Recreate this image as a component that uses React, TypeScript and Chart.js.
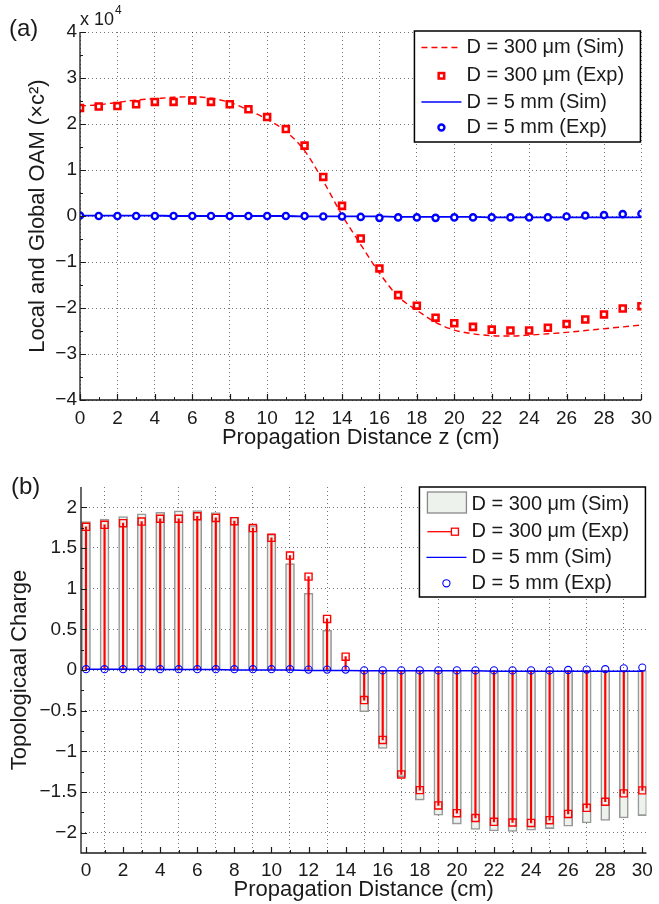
import React, { useEffect, useRef } from "react";
import { Chart, registerables } from "chart.js";

Chart.register(...registerables);

const FONT = "'Liberation Sans', Arial, Helvetica, sans-serif";
const TEXT = "#1a1a1a";
const RED = "#ff0000";
const BLUE = "#0000ff";
const GRID = "rgba(0,0,0,0.55)";
const BAR_FILL = "#edf2ed";
const BAR_EDGE = "#999999";

// ---------- Panel (a): Local and Global OAM (units of 10^4 c^2) ----------
const zA = [0, 1, 2, 3, 4, 5, 6, 7, 8, 9, 10, 11, 12, 13, 14, 15, 16, 17, 18, 19, 20, 21, 22, 23, 24, 25, 26, 27, 28, 29, 30];
const oamSim300 = [2.39, 2.42, 2.47, 2.52, 2.55, 2.58, 2.59, 2.56, 2.47, 2.3, 2.1, 1.84, 1.42, 0.76, 0.02, -0.62, -1.24, -1.75, -2.05, -2.31, -2.48, -2.56, -2.6, -2.61, -2.59, -2.56, -2.53, -2.49, -2.45, -2.41, -2.37];
const oamExp300 = [2.35, 2.38, 2.39, 2.43, 2.48, 2.48, 2.51, 2.48, 2.43, 2.32, 2.15, 1.89, 1.53, 0.85, 0.22, -0.49, -1.14, -1.72, -1.95, -2.21, -2.33, -2.41, -2.47, -2.49, -2.49, -2.43, -2.35, -2.25, -2.14, -2.01, -1.96];
const oamSim5 = [0.01, 0.01, 0.01, 0.01, 0.01, 0.0, 0.0, 0.0, 0.0, 0.0, 0.0, 0.0, -0.01, -0.01, -0.01, -0.01, -0.01, -0.02, -0.02, -0.02, -0.02, -0.02, -0.03, -0.03, -0.03, -0.03, -0.03, -0.03, -0.03, -0.03, -0.03];
const oamExp5 = [0.01, 0.0, 0.0, 0.0, 0.0, 0.0, 0.0, 0.0, 0.0, 0.0, 0.0, 0.0, 0.0, -0.01, -0.01, -0.02, -0.04, -0.03, -0.03, -0.04, -0.03, -0.03, -0.03, -0.03, -0.03, -0.03, -0.01, 0.01, 0.02, 0.04, 0.05];
const xTicksA = [0, 2, 4, 6, 8, 10, 12, 14, 16, 18, 20, 22, 24, 26, 28, 30];
const yTicksA = [-4, -3, -2, -1, 0, 1, 2, 3, 4];
const legendA = ["D = 300 \u03bcm (Sim)", "D = 300 \u03bcm (Exp)", "D = 5 mm (Sim)", "D = 5 mm (Exp)"];
const xTitleA = "Propagation Distance z (cm)";
const yTitleA = "Local and Global OAM (\u00d7c\u00b2)";

// ---------- Panel (b): Topological charge ----------
const zB = [0, 1, 2, 3, 4, 5, 6, 7, 8, 9, 10, 11, 12, 13, 14, 15, 16, 17, 18, 19, 20, 21, 22, 23, 24, 25, 26, 27, 28, 29, 30];
const tcSim300 = [1.825, 1.855, 1.887, 1.92, 1.94, 1.957, 1.96, 1.936, 1.88, 1.776, 1.67, 1.308, 0.944, 0.49, 0.0, -0.513, -0.964, -1.313, -1.6, -1.785, -1.895, -1.96, -1.98, -1.985, -1.97, -1.95, -1.92, -1.88, -1.85, -1.82, -1.79];
const tcExp300 = [1.76, 1.785, 1.805, 1.825, 1.86, 1.86, 1.89, 1.87, 1.83, 1.745, 1.625, 1.407, 1.148, 0.628, 0.164, -0.37, -0.86, -1.284, -1.477, -1.665, -1.76, -1.82, -1.867, -1.875, -1.88, -1.846, -1.77, -1.695, -1.62, -1.517, -1.48];
const tcSim5 = [0.01, 0.01, 0.01, 0.01, 0.005, 0.005, 0.005, 0.005, 0.0, 0.0, 0.0, 0.0, -0.005, -0.005, -0.005, -0.01, -0.01, -0.01, -0.01, -0.01, -0.01, -0.01, -0.015, -0.015, -0.015, -0.015, -0.015, -0.015, -0.015, -0.015, -0.015];
const tcExp5 = [0.01, 0.01, 0.01, 0.01, 0.01, 0.01, 0.01, 0.01, 0.01, 0.01, 0.01, 0.01, 0.005, 0.005, 0.005, -0.005, -0.005, -0.005, -0.005, -0.005, -0.005, -0.005, -0.005, -0.005, -0.005, -0.005, 0.0, 0.005, 0.01, 0.02, 0.03];
const xTicksB = [0, 2, 4, 6, 8, 10, 12, 14, 16, 18, 20, 22, 24, 26, 28, 30];
const yTicksB = [-2, -1.5, -1, -0.5, 0, 0.5, 1, 1.5, 2];
const legendB = ["D = 300 \u03bcm (Sim)", "D = 300 \u03bcm (Exp)", "D = 5 mm (Sim)", "D = 5 mm (Exp)"];
const xTitleB = "Propagation Distance (cm)";
const yTitleB = "Topologicaal Charge";

const pts = (xs: number[], ys: number[]) => xs.map((x, i) => ({ x, y: ys[i] }));
const fmt = (v: number) => (v < 0 ? "\u2212" : "") + String(Math.abs(v));

function drawSquare(ctx: any, x: number, y: number, side: number, lw: number, color: string, fill: string | null) {
  ctx.save();
  ctx.lineWidth = lw;
  ctx.strokeStyle = color;
  if (fill) {
    ctx.fillStyle = fill;
    ctx.fillRect(x - side / 2, y - side / 2, side, side);
  }
  ctx.strokeRect(x - side / 2, y - side / 2, side, side);
  ctx.restore();
}

function drawCircle(ctx: any, x: number, y: number, r: number, lw: number, color: string, fill: string | null) {
  ctx.save();
  ctx.lineWidth = lw;
  ctx.strokeStyle = color;
  ctx.beginPath();
  ctx.arc(x, y, r, 0, Math.PI * 2);
  if (fill) {
    ctx.fillStyle = fill;
    ctx.fill();
  }
  ctx.stroke();
  ctx.restore();
}

function drawLine(ctx: any, x1: number, x2: number, y: number, lw: number, color: string, dash: number[]) {
  ctx.save();
  ctx.lineWidth = lw;
  ctx.strokeStyle = color;
  ctx.setLineDash(dash);
  ctx.beginPath();
  ctx.moveTo(x1, y);
  ctx.lineTo(x2, y);
  ctx.stroke();
  ctx.restore();
}

const matlabPlugin = {
  id: "matlab",
  afterDraw(chart: any, _args: any, opts: any) {
    const { ctx, chartArea: ca, scales } = chart;
    const xs = scales.x;
    const ys = scales.y;
    ctx.save();

    // axis lines (left + bottom only)
    ctx.strokeStyle = TEXT;
    ctx.lineWidth = 1.3;
    ctx.beginPath();
    ctx.moveTo(ca.left, ca.top);
    ctx.lineTo(ca.left, ca.bottom);
    ctx.lineTo(ca.right, ca.bottom);
    ctx.stroke();

    // inward ticks
    ctx.lineWidth = 1.2;
    ctx.beginPath();
    const xt = xs.ticks.map((t: any) => t.value);
    const yt = ys.ticks.map((t: any) => t.value);
    xt.forEach((v: number) => {
      const p = Math.round(xs.getPixelForValue(v)) + 0.5;
      ctx.moveTo(p, ca.bottom);
      ctx.lineTo(p, ca.bottom - 6);
    });
    yt.forEach((v: number) => {
      const p = Math.round(ys.getPixelForValue(v)) + 0.5;
      ctx.moveTo(ca.left, p);
      ctx.lineTo(ca.left + 6, p);
    });
    ctx.stroke();
    ctx.lineWidth = 1;
    ctx.beginPath();
    for (let i = 0; i < xt.length - 1; i++) {
      const p = Math.round(xs.getPixelForValue((xt[i] + xt[i + 1]) / 2)) + 0.5;
      ctx.moveTo(p, ca.bottom);
      ctx.lineTo(p, ca.bottom - 3);
    }
    for (let i = 0; i < yt.length - 1; i++) {
      const p = Math.round(ys.getPixelForValue((yt[i] + yt[i + 1]) / 2)) + 0.5;
      ctx.moveTo(ca.left, p);
      ctx.lineTo(ca.left + 3, p);
    }
    ctx.stroke();

    // panel label
    ctx.fillStyle = TEXT;
    ctx.textBaseline = "middle";
    ctx.textAlign = "left";
    ctx.font = `24px ${FONT}`;
    ctx.fillText(opts.label, opts.labelX, opts.labelY);

    // exponent
    if (opts.exponent) {
      ctx.font = `18px ${FONT}`;
      const base = "x 10";
      ctx.fillText(base, ca.left, ca.top - 11.5);
      const w = ctx.measureText(base).width;
      ctx.font = `12px ${FONT}`;
      ctx.fillText(opts.exponent, ca.left + w + 1, ca.top - 21);
    }

    // legend
    const lg = opts.legend;
    const bx = ca.right - lg.width - 1;
    const by = ca.top - lg.inset;
    ctx.fillStyle = "#ffffff";
    ctx.fillRect(bx, by, lg.width, lg.height);
    ctx.strokeStyle = "#000";
    ctx.lineWidth = 1.5;
    ctx.strokeRect(bx, by, lg.width, lg.height);
    lg.items.forEach((it: any, i: number) => {
      const y = by + lg.rows[i];
      const x1 = bx + 7;
      const x2 = bx + 47;
      const xm = bx + 27;
      if (it.kind === "dash") drawLine(ctx, x1, x2, y, 1.3, RED, [6, 4]);
      if (it.kind === "line") drawLine(ctx, x1, x2, y, 1.3, BLUE, []);
      if (it.kind === "square") drawSquare(ctx, xm, y, 5.5, 2.5, RED, "#fff");
      if (it.kind === "circleThick") drawCircle(ctx, xm, y, 3, 2.4, BLUE, "#fff");
      if (it.kind === "circle") drawCircle(ctx, xm, y, 3.6, 1.1, BLUE, null);
      if (it.kind === "bar") {
        ctx.save();
        ctx.fillStyle = BAR_FILL;
        ctx.fillRect(x1 + 1, by + 5, 39, 21);
        ctx.strokeStyle = "#888";
        ctx.lineWidth = 1.3;
        ctx.strokeRect(x1 + 1, by + 5, 39, 21);
        ctx.restore();
      }
      if (it.kind === "stem") {
        drawLine(ctx, x1 + 1, bx + 32, y, 1.3, RED, []);
        drawSquare(ctx, bx + 35.5, y, 7, 1.3, RED, "#fff");
      }
      ctx.fillStyle = TEXT;
      ctx.font = `20px ${FONT}`;
      ctx.textBaseline = "middle";
      ctx.textAlign = "left";
      ctx.fillText(it.text, bx + 52, y);
    });
    ctx.restore();
  },
};

function axisCommon(ticksArr: number[], pad: number) {
  return {
    type: "linear",
    afterBuildTicks: (s: any) => {
      s.ticks = ticksArr.map((v) => ({ value: v }));
    },
    grid: { color: GRID, lineWidth: 1, drawTicks: false },
    border: { display: false, dash: [1, 3] },
    ticks: {
      font: { family: FONT, size: 19 },
      color: TEXT,
      padding: pad,
      autoSkip: false,
      maxRotation: 0,
      callback: (v: any) => fmt(Number(v)),
    },
  };
}

function configA(): any {
  return {
    type: "line",
    data: {
      datasets: [
        {
          label: legendA[1],
          data: pts(zA, oamExp300),
          showLine: false,
          pointStyle: "rect",
          pointRadius: 4.2,
          pointBorderWidth: 2.6,
          borderColor: RED,
          pointBackgroundColor: "#fff",
        },
        {
          label: legendA[3],
          data: pts(zA, oamExp5),
          showLine: false,
          pointStyle: "circle",
          pointRadius: 3.1,
          pointBorderWidth: 2.4,
          borderColor: BLUE,
          pointBackgroundColor: "#fff",
        },
        {
          label: legendA[0],
          data: pts(zA, oamSim300),
          borderColor: RED,
          borderWidth: 1.4,
          borderDash: [6, 4],
          pointRadius: 0,
          cubicInterpolationMode: "monotone",
        },
        {
          label: legendA[2],
          data: pts(zA, oamSim5),
          borderColor: BLUE,
          borderWidth: 1.8,
          pointRadius: 0,
          cubicInterpolationMode: "monotone",
        },
      ],
    },
    options: {
      animation: false,
      responsive: false,
      events: [],
      layout: { padding: { top: 32, right: 11, bottom: 0, left: 0 } },
      plugins: {
        legend: { display: false },
        tooltip: { enabled: false },
        matlab: {
          label: "(a)",
          labelX: 9,
          labelY: 29,
          exponent: "4",
          legend: {
            width: 226,
            height: 111,
            inset: 1,
            rows: [16.5, 44.8, 71, 96.5],
            items: [
              { kind: "dash", text: legendA[0] },
              { kind: "square", text: legendA[1] },
              { kind: "line", text: legendA[2] },
              { kind: "circleThick", text: legendA[3] },
            ],
          },
        },
      },
      scales: {
        x: {
          ...axisCommon(xTicksA, 7),
          min: 0,
          max: 30,
          afterFit: (s: any) => {
            s.height = 52;
          },
          title: { display: true, text: xTitleA, color: TEXT, font: { family: FONT, size: 22 }, padding: { top: 0, bottom: 1 } },
        },
        y: {
          ...axisCommon(yTicksA, 3),
          min: -4,
          max: 4,
          afterFit: (s: any) => {
            s.width = 80;
          },
          title: { display: true, text: yTitleA, color: TEXT, font: { family: FONT, size: 22 }, padding: { top: 25, bottom: 0 } },
        },
      },
    },
    plugins: [matlabPlugin],
  };
}

function configB(): any {
  return {
    type: "line",
    data: {
      datasets: [
        {
          label: legendB[3],
          data: pts(zB, tcExp5),
          showLine: false,
          pointStyle: "circle",
          pointRadius: 3.6,
          pointBorderWidth: 1.1,
          borderColor: BLUE,
          pointBackgroundColor: "rgba(0,0,0,0)",
        },
        {
          label: legendB[2],
          data: pts(zB, tcSim5),
          borderColor: BLUE,
          borderWidth: 1.5,
          pointRadius: 0,
        },
        {
          label: legendB[1],
          data: pts(zB, tcExp300),
          showLine: false,
          pointStyle: "rect",
          pointRadius: 5,
          pointBorderWidth: 1.4,
          borderColor: RED,
          pointBackgroundColor: "rgba(0,0,0,0)",
        },
        {
          type: "bar",
          label: legendB[1] + " stem",
          data: pts(zB, tcExp300),
          backgroundColor: RED,
          borderWidth: 0,
          barThickness: 1.5,
          grouped: false,
        },
        {
          type: "bar",
          label: legendB[0],
          data: pts(zB, tcSim300),
          backgroundColor: BAR_FILL,
          borderColor: BAR_EDGE,
          borderWidth: 1.6,
          borderSkipped: false,
          barThickness: 9,
          grouped: false,
        },
      ],
    },
    options: {
      animation: false,
      responsive: false,
      events: [],
      layout: { padding: { top: 35, right: 12, bottom: 0, left: 0 } },
      plugins: {
        legend: { display: false },
        tooltip: { enabled: false },
        matlab: {
          label: "(b)",
          labelX: 11,
          labelY: 35.5,
          exponent: null,
          legend: {
            width: 226,
            height: 110,
            inset: 0,
            rows: [17, 44.7, 70.3, 96.3],
            items: [
              { kind: "bar", text: legendB[0] },
              { kind: "stem", text: legendB[1] },
              { kind: "line", text: legendB[2] },
              { kind: "circle", text: legendB[3] },
            ],
          },
        },
      },
      scales: {
        x: {
          ...axisCommon(xTicksB, 6),
          min: -0.27,
          max: 30.22,
          offset: false,
          afterFit: (s: any) => {
            s.height = 51;
          },
          title: { display: true, text: xTitleB, color: TEXT, font: { family: FONT, size: 22 }, padding: { top: 0, bottom: 1 } },
        },
        y: {
          ...axisCommon(yTicksB, 4),
          min: -2.25,
          max: 2.25,
          afterFit: (s: any) => {
            s.width = 81;
          },
          title: { display: true, text: yTitleB, color: TEXT, font: { family: FONT, size: 22 }, padding: { top: 7, bottom: 0 } },
        },
      },
    },
    plugins: [matlabPlugin],
  };
}

export default function App() {
  const refA = useRef<HTMLCanvasElement | null>(null);
  const refB = useRef<HTMLCanvasElement | null>(null);

  useEffect(() => {
    Chart.defaults.font.family = FONT;
    const a = new Chart(refA.current as HTMLCanvasElement, configA());
    const b = new Chart(refB.current as HTMLCanvasElement, configB());
    return () => {
      a.destroy();
      b.destroy();
    };
  }, []);

  return (
    <div style={{ position: "absolute", left: 0, top: 0, width: 659, height: 904, background: "#fff" }}>
      <canvas ref={refA} width={659} height={452} style={{ display: "block", width: 659, height: 452 }} />
      <canvas ref={refB} width={659} height={452} style={{ display: "block", width: 659, height: 452 }} />
    </div>
  );
}
